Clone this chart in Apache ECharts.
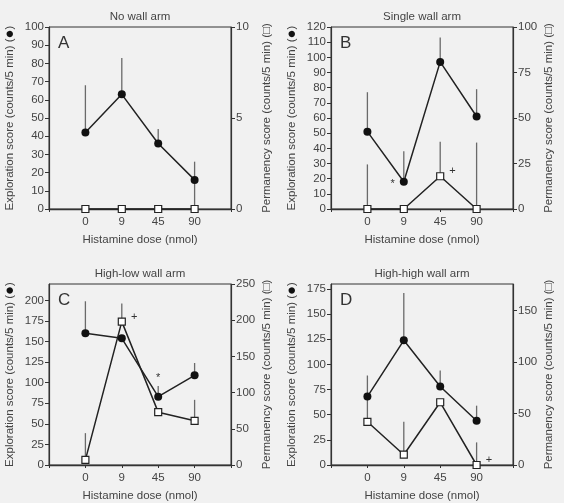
<!DOCTYPE html>
<html><head><meta charset="utf-8">
<script src="https://cdn.jsdelivr.net/npm/echarts@6/dist/echarts.min.js"></script>
<style>html,body{margin:0;padding:0;background:#f1f1f1}#c{width:564px;height:503px}</style>
</head><body><div id="c"></div>
<script>
// ---- data ----
const doses = ['0', '9', '45', '90'];
const panelTitles = ['No wall arm', 'Single wall arm', 'High-low wall arm', 'High-high wall arm'];
const panelLetters = ['A', 'B', 'C', 'D'];

// Panel A
const explA = [42, 63, 36, 16];
const explHiA = [68, 83, 44, 26];
const explLoA = [42, 63, 36, 0];
const permA = [0, 0, 0, 0];
const permHiA = [0, 0, 0, 0];
// Panel B
const explB = [51, 18, 97, 61];
const explHiB = [77, 38, 113, 79];
const explLoB = [51, 18, 97, 61];
const permB = [0, 0, 18, 0];
const permHiB = [24.5, 0, 37, 36.5];
// Panel C
const explC = [160, 154, 83, 109];
const explHiC = [199, 154, 96, 124];
const explLoC = [160, 154, 83, 109];
const permC = [7, 198, 73, 61];
const permHiC = [44, 223, 73, 90];
// Panel D
const explD = [68, 124, 78, 44];
const explHiD = [89, 171, 94, 59];
const explLoD = [43, 124, 78, 44];
const permD = [42, 10, 61, 0];
const permHiD = [42, 42, 61, 22];

// axis ranges and tick labels
const leftMax = [100, 120, 220, 180];
const leftTicks = [
  [0,10,20,30,40,50,60,70,80,90,100],
  [0,10,20,30,40,50,60,70,80,90,100,110,120],
  [0,25,50,75,100,125,150,175,200],
  [0,25,50,75,100,125,150,175]
];
const rightMax = [10, 100, 250, 176];
const rightTicks = [
  [0,5,10],
  [0,25,50,75,100],
  [0,50,100,150,200,250],
  [0,50,100,150]
];
// annotations: [panel, series ('e' or 'p'), index, text, position]
const annotations = [
  [1, 'e', 1, '*', 'left'],
  [1, 'p', 2, '+', 'right'],
  [2, 'p', 1, '+', 'right'],
  [2, 'e', 2, '*', 'top'],
  [3, 'p', 3, '+', 'right']
];

const panels = [
  {e: explA, eHi: explHiA, eLo: explLoA, p: permA, pHi: permHiA},
  {e: explB, eHi: explHiB, eLo: explLoB, p: permB, pHi: permHiB},
  {e: explC, eHi: explHiC, eLo: explLoC, p: permC, pHi: permHiC},
  {e: explD, eHi: explHiD, eLo: explLoD, p: permD, pHi: permHiD}
];

// ---- layout ----
const gridPos = [[49, 27], [331, 27], [49, 284], [331, 284]];
const W = 182, H = 182;
const FONT = 'Liberation Sans, Arial, sans-serif';
const TXT = '#444';
const LINE = '#222';

const grid = [], xAxis = [], yAxis = [], series = [], graphic = [];

function makeErrRender(rows) {
  return function (params, api) {
    const r = rows[params.dataIndex];
    const a = api.coord([r[0], r[1]]), b = api.coord([r[0], r[2]]);
    return {type: 'line', shape: {x1: a[0], y1: a[1], x2: b[0], y2: b[1]},
      style: {stroke: '#6a6a6a', lineWidth: 1.3}};
  };
}

panels.forEach((pd, k) => {
  const [L, T] = gridPos[k];
  grid.push({left: L, top: T, width: W, height: H, show: true, borderColor: '#333', borderWidth: 1, backgroundColor: 'transparent'});
  xAxis.push({
    type: 'value', gridIndex: k, min: -1, max: 4, interval: 1,
    name: 'Histamine dose (nmol)', nameLocation: 'middle', nameGap: 25,
    nameTextStyle: {fontFamily: FONT, fontSize: 11.5, color: TXT},
    axisLine: {onZero: false, lineStyle: {color: '#333', width: 1.3}},
    axisTick: {show: true, length: 3, inside: false, lineStyle: {color: '#333'}},
    splitLine: {show: false},
    axisLabel: {fontFamily: FONT, fontSize: 11.5, color: TXT, margin: 7,
      formatter: v => (v >= 0 && v < doses.length && Number.isInteger(v)) ? doses[v] : ''}
  });
  const yl = k * 2, yr = k * 2 + 1;
  yAxis.push({
    type: 'value', gridIndex: k, position: 'left', min: 0, max: leftMax[k],
    name: 'Exploration score (counts/5 min) ({c|●})', nameLocation: 'middle', nameGap: 32, nameRotate: 90,
    nameTextStyle: {fontFamily: FONT, fontSize: 11.5, color: TXT, rich: {c: {fontSize: 15, color: '#111'}}},
    axisLine: {show: true, onZero: false, lineStyle: {color: '#333', width: 1.2}},
    axisTick: {show: true, length: 4, customValues: leftTicks[k], lineStyle: {color: '#333'}},
    axisLabel: {fontFamily: FONT, fontSize: 11.5, color: TXT, margin: 5, customValues: leftTicks[k]},
    splitLine: {show: false}
  });
  yAxis.push({
    type: 'value', gridIndex: k, position: 'right', min: 0, max: rightMax[k],
    name: 'Permanency score (counts/5 min) (□)', nameLocation: 'middle', nameGap: 30, nameRotate: 90,
    nameTextStyle: {fontFamily: FONT, fontSize: 11.5, color: TXT},
    axisLine: {show: true, onZero: false, lineStyle: {color: '#333', width: 1.2}},
    axisTick: {show: true, length: 4, customValues: rightTicks[k], lineStyle: {color: '#333'}},
    axisLabel: {fontFamily: FONT, fontSize: 11.5, color: TXT, margin: 5, customValues: rightTicks[k]},
    splitLine: {show: false}
  });

  const eErr = [], pErr = [];
  pd.e.forEach((v, i) => { if (pd.eHi[i] !== pd.eLo[i]) eErr.push([i, pd.eLo[i], pd.eHi[i]]); });
  pd.p.forEach((v, i) => { if (pd.pHi[i] !== v) pErr.push([i, v, pd.pHi[i]]); });

  // connecting lines (no symbols)
  series.push({type: 'line', xAxisIndex: k, yAxisIndex: yr, data: pd.p.map((v, i) => [i, v]),
    symbol: 'none', z: 3, clip: false, silent: true, lineStyle: {color: LINE, width: 1.5}});
  series.push({type: 'line', xAxisIndex: k, yAxisIndex: yl, data: pd.e.map((v, i) => [i, v]),
    symbol: 'none', z: 4, clip: false, silent: true, lineStyle: {color: LINE, width: 1.5}});

  // error bars
  series.push({type: 'custom', xAxisIndex: k, yAxisIndex: yl, renderItem: makeErrRender(eErr),
    data: eErr.map(r => [r[0], r[2]]), z: 10, silent: true, clip: false});
  series.push({type: 'custom', xAxisIndex: k, yAxisIndex: yr, renderItem: makeErrRender(pErr),
    data: pErr.map(r => [r[0], r[2]]), z: 10, silent: true, clip: false});

  const mkData = (arr, key) => arr.map((v, i) => {
    const ann = annotations.find(a => a[0] === k && a[1] === key && a[2] === i);
    if (!ann) return [i, v];
    const lab = {show: true, formatter: ann[3], position: ann[4], distance: 5,
      fontFamily: FONT, fontSize: 11, color: '#333'};
    if (ann[3] === '+') lab.offset = [0, -5];
    if (ann[4] === 'top') lab.distance = 9;
    if (ann[4] === 'left') lab.offset = [0, 2];
    return {value: [i, v], label: lab};
  });

  // markers
  series.push({type: 'scatter', xAxisIndex: k, yAxisIndex: yr, data: mkData(pd.p, 'p'),
    symbol: 'rect', symbolSize: 7, z: 11, clip: false, silent: true,
    itemStyle: {color: '#fff', borderColor: '#222', borderWidth: 1.2, opacity: 1}});
  series.push({type: 'scatter', xAxisIndex: k, yAxisIndex: yl, data: mkData(pd.e, 'e'),
    symbol: 'circle', symbolSize: 8, z: 12, clip: false, silent: true,
    itemStyle: {color: '#111', opacity: 1}});

  graphic.push({type: 'text', x: L + W / 2, y: T - 10, style: {text: panelTitles[k], fontFamily: FONT, fontSize: 11.5, fill: TXT, textAlign: 'center', textVerticalAlign: 'middle'}});
  graphic.push({type: 'text', x: L + 9, y: T + 16, style: {text: panelLetters[k], fontFamily: FONT, fontSize: 17, fill: '#333', textAlign: 'left', textVerticalAlign: 'middle'}});
});

const chart = echarts.init(document.getElementById('c'), null, {renderer: 'canvas'});
chart.setOption({backgroundColor: '#f1f1f1', animation: false, grid, xAxis, yAxis, series, graphic});
</script>
</body></html>
